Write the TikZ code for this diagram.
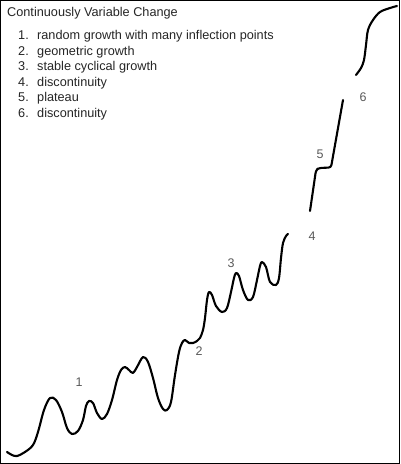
\documentclass[tikz,border=0pt]{standalone}
\usepackage{fontspec}
\setmainfont{Liberation Sans}
\begin{document}
\begin{tikzpicture}[x=1pt,y=-1pt,
  txt/.style={inner sep=0pt,anchor=base west,text=black!85,font=\fontsize{12.7}{14}\selectfont},
  lbl/.style={inner sep=0pt,text=black!65,font=\fontsize{12.5}{14}\selectfont},
  curve/.style={line width=2.1pt,line cap=round,line join=round}]
\useasboundingbox (0,0) rectangle (400,464);
\fill[white] (0,0) rectangle (400,464);
\draw[line width=1pt] (0.5,0.5) rectangle (399.5,463.5);
\node[txt] (title) at (7,16.5) {Continuously Variable Change};
\node[txt] (n1) at (18,39.5) {1.};
\node[txt] (t1) at (37,39.5) {random growth with many inflection points};
\node[txt] (n2) at (18,55) {2.};
\node[txt] (t2) at (37,55) {geometric growth};
\node[txt] (n3) at (18,70.5) {3.};
\node[txt] (t3) at (37,70.5) {stable cyclical growth};
\node[txt] (n4) at (18,86) {4.};
\node[txt] (t4) at (37,86) {discontinuity};
\node[txt] (n5) at (18,101.5) {5.};
\node[txt] (t5) at (37,101.5) {plateau};
\node[txt] (n6) at (18,117) {6.};
\node[txt] (t6) at (37,117) {discontinuity};
\node[lbl] (l1) at (79,382) {1};
\node[lbl] (l2) at (199,351) {2};
\node[lbl] (l3) at (231,263) {3};
\node[lbl] (l4) at (312,236) {4};
\node[lbl] (l5) at (320,154) {5};
\node[lbl] (l6) at (363,97) {6};
\draw[curve] plot[smooth,tension=0.55] coordinates {
(7,452)(12,455)(17,456)(25,452)(33,445)(38,432)(44,410)(50,398)(56,400)(62,412)(67,428)(72,434)(78,431)(83,420)(86,406)(89,401)(93,403)(97,413)(102,419)(107,414)(112,400)(117,380)(121,370)(125,367)(129,370)(133,373)(137,367)(143,357)(148,362)(153,378)(158,398)(163,409)(167,410)(171,402)(175,375)(179,352)(182,343)(185,340)(189,343)(193,343)(197,341)(200,338)(203,330)(205,318)(207,300)(209,292)(212,295)(216,306)(222,312)(227,308)(231,292)(234,278)(236,273)(239,276)(243,290)(248,300)(253,297)(257,280)(260,266)(262,262)(266,267)(270,282)(276,285)(279,278)(281,258)(283,243)(286,236)(288,234)};
\draw[curve,rounded corners=2.5pt] (310,211) -- (316,170) -- (319,168) -- (331,167.5) -- (343,100);
\draw[curve] plot[smooth,tension=0.55] coordinates {
(356,75)(361,68)(364,60)(366,45)(368,30)(373,20)(380,12)(390,8)(397,6)};
\end{tikzpicture}
\end{document}
